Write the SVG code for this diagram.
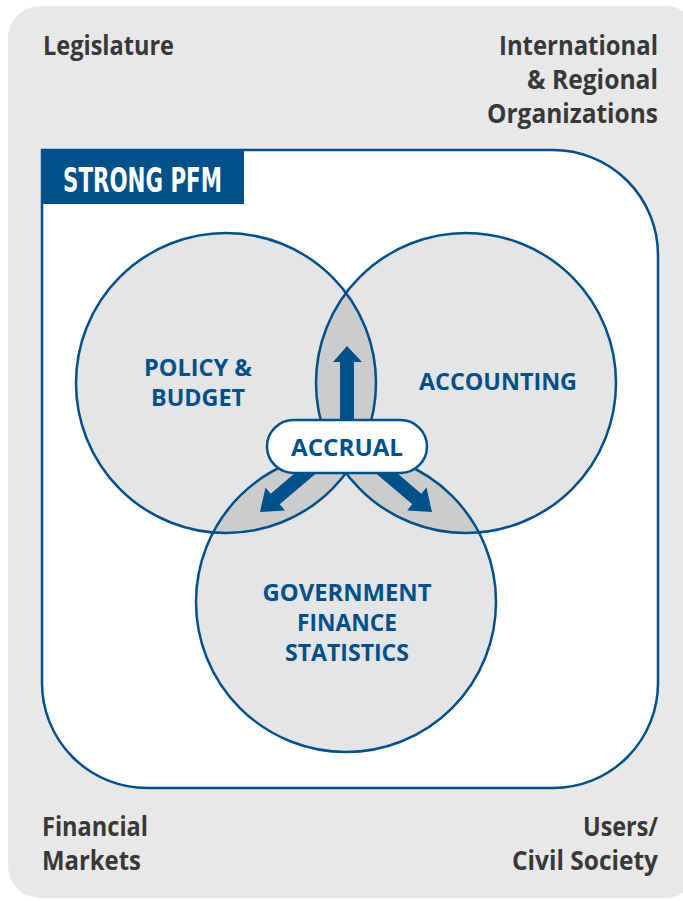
<svg xmlns="http://www.w3.org/2000/svg" width="683" height="901" viewBox="0 0 683 901">
<style>
.corner{font-family:"Open Sans","Liberation Sans",sans-serif;font-weight:700;font-size:26px;fill:#383838}
.lbl{font-family:"Open Sans","Liberation Sans",sans-serif;font-weight:700;font-size:23px;fill:#00508a;text-anchor:middle}
.circ{fill:#e4e5e7}
.lens{fill:#cbccce}
.ring{fill:none;stroke:#00508a;stroke-width:2.5}
.arrow{fill:#00508a}
</style>
<defs>
<clipPath id="cL"><circle cx="226" cy="383" r="150"/></clipPath>
<clipPath id="cR"><circle cx="466" cy="383" r="150"/></clipPath>
<clipPath id="cB"><circle cx="346" cy="602" r="150"/></clipPath>
</defs>
<g id="background">
<rect x="8" y="6" width="690" height="892" rx="32" fill="#e8e8e8"/>
</g>
<g id="corners">
<text class="corner" x="43" y="55" textLength="131" lengthAdjust="spacingAndGlyphs">Legislature</text>
<text class="corner" x="499" y="55" textLength="159" lengthAdjust="spacingAndGlyphs">International</text>
<text class="corner" x="527" y="89" textLength="131" lengthAdjust="spacingAndGlyphs">&amp; Regional</text>
<text class="corner" x="487" y="123" textLength="171" lengthAdjust="spacingAndGlyphs">Organizations</text>
<text class="corner" x="42" y="836" textLength="106" lengthAdjust="spacingAndGlyphs">Financial</text>
<text class="corner" x="42" y="870" textLength="99" lengthAdjust="spacingAndGlyphs">Markets</text>
<text class="corner" x="583" y="836" textLength="75" lengthAdjust="spacingAndGlyphs">Users/</text>
<text class="corner" x="512" y="870" textLength="146" lengthAdjust="spacingAndGlyphs">Civil Society</text>
</g>
<g id="strong-pfm">
<path d="M42,150 H553 A105,105 0 0 1 658,255 V683 A105,105 0 0 1 553,788 H147 A105,105 0 0 1 42,683 Z" fill="#ffffff" stroke="#00508a" stroke-width="2.5"/>
<rect x="42" y="150" width="202" height="54" fill="#00508a"/>
<text x="63" y="192" font-family="'DejaVu Sans Condensed','DejaVu Sans',sans-serif" font-weight="700" font-size="34" fill="#ffffff" textLength="159" lengthAdjust="spacingAndGlyphs">STRONG PFM</text>
</g>
<g id="fills">
<circle class="circ" cx="226" cy="383" r="150"/>
<circle class="circ" cx="466" cy="383" r="150"/>
<circle class="circ" cx="346" cy="602" r="150"/>
<circle class="lens" cx="226" cy="383" r="150" clip-path="url(#cR)"/>
<circle class="lens" cx="226" cy="383" r="150" clip-path="url(#cB)"/>
<circle class="lens" cx="466" cy="383" r="150" clip-path="url(#cB)"/>
</g>
<g id="policy-budget">
<circle class="ring" cx="226" cy="383" r="150"/>
<text class="lbl" x="198" y="376" textLength="108" lengthAdjust="spacingAndGlyphs">POLICY &amp;</text>
<text class="lbl" x="198" y="406" textLength="94" lengthAdjust="spacingAndGlyphs">BUDGET</text>
</g>
<g id="accounting">
<circle class="ring" cx="466" cy="383" r="150"/>
<text class="lbl" x="498" y="390" textLength="158" lengthAdjust="spacingAndGlyphs">ACCOUNTING</text>
</g>
<g id="gfs">
<circle class="ring" cx="346" cy="602" r="150"/>
<text class="lbl" x="347" y="601" textLength="169" lengthAdjust="spacingAndGlyphs">GOVERNMENT</text>
<text class="lbl" x="347" y="631" textLength="100" lengthAdjust="spacingAndGlyphs">FINANCE</text>
<text class="lbl" x="347" y="661" textLength="124" lengthAdjust="spacingAndGlyphs">STATISTICS</text>
</g>
<g id="connectors">
<polygon class="arrow" points="340,430 340,362 333,362 347,346 362,362 354,362 354,430"/>
<polygon class="arrow" points="316.4,454.8 325.4,465.4 279.7,504.3 284.9,510.4 260,512 265.5,487.6 270.7,493.7"/>
<polygon class="arrow" points="375.6,454.8 366.6,465.4 412.3,504.3 407.1,510.4 432,512 426.5,487.6 421.3,493.7"/>
</g>
<g id="accrual">
<rect x="267" y="420" width="160" height="53" rx="26.5" fill="#ffffff" stroke="#00508a" stroke-width="2.5"/>
<text class="lbl" x="347" y="456" textLength="112" lengthAdjust="spacingAndGlyphs">ACCRUAL</text>
</g>
</svg>
